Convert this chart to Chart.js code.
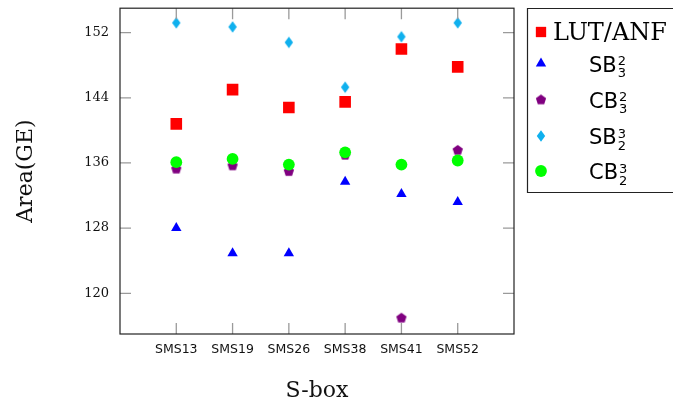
<!DOCTYPE html>
<html>
<head>
<meta charset="utf-8">
<script src="https://cdn.jsdelivr.net/npm/chart.js@4/dist/chart.umd.min.js"></script>
<style>
  html, body { margin: 0; padding: 0; background: #fff; }
  #wrap { width: 673px; height: 405px; }
</style>
</head>
<body>
<div id="wrap"><canvas id="areaChart" width="673" height="405"></canvas></div>
<script>
// ---- data ----
const sboxes = ["SMS13", "SMS19", "SMS26", "SMS38", "SMS41", "SMS52"];
const yTicks = [120, 128, 136, 144, 152];

const lutAnf = [140.8, 145.0, 142.8, 143.5, 150.0, 147.8];
const sb32 = [128.0, 124.9, 124.9, 133.7, 132.2, 131.2];
const cb32 = [135.3, 135.7, 135.0, 137.0, 117.0, 137.6];
const sb23 = [153.2, 152.7, 150.8, 145.3, 151.5, 153.2];
const cb23 = [136.1, 136.5, 135.8, 137.3, 135.8, 136.3];

// legend text pieces: base, subscript, superscript
const seriesBase = ["LUT/ANF", "SB", "CB", "SB", "CB"];
const seriesSub = ["", "3", "3", "2", "2"];
const seriesSup = ["", "2", "2", "3", "3"];

// ---- custom marker shapes ----
function makeDiamond(color) {
  const c = document.createElement("canvas");
  c.width = 12; c.height = 14;
  const g = c.getContext("2d");
  g.fillStyle = color;
  g.beginPath();
  g.moveTo(6, 1.2);
  g.lineTo(10.2, 7);
  g.lineTo(6, 12.8);
  g.lineTo(1.8, 7);
  g.closePath();
  g.fill();
  return c;
}

function makePentagon(color) {
  const c = document.createElement("canvas");
  c.width = 14; c.height = 14;
  const g = c.getContext("2d");
  const R = 5.4;
  g.fillStyle = color;
  g.beginPath();
  for (let k = 0; k < 5; k++) {
    const a = -Math.PI / 2 + k * 2 * Math.PI / 5;
    const px = 7 + R * Math.cos(a);
    const py = 7.5 + R * Math.sin(a);
    if (k === 0) g.moveTo(px, py); else g.lineTo(px, py);
  }
  g.closePath();
  g.fill();
  return c;
}

const diamond = makeDiamond("#0fb0ee");
const pentagon = makePentagon("#800080");

const styles = [
  { color: "#ff0000", pointStyle: "rect", radius: 8.2 },
  { color: "#0000ff", pointStyle: "triangle", radius: 6 },
  { color: "#800080", pointStyle: pentagon, radius: 6 },
  { color: "#0fb0ee", pointStyle: diamond, radius: 6 },
  { color: "#00ff00", pointStyle: "circle", radius: 5.9 }
];

const seriesValues = [lutAnf, sb32, cb32, sb23, cb23];

const datasets = seriesValues.map((vals, i) => ({
  label: seriesBase[i] + seriesSub[i] + seriesSup[i],
  data: vals.map((v, j) => ({ x: j, y: v })),
  pointStyle: styles[i].pointStyle,
  pointRadius: styles[i].radius,
  pointHoverRadius: styles[i].radius,
  pointBackgroundColor: styles[i].color,
  pointBorderColor: styles[i].color,
  pointBorderWidth: 0,
  showLine: false,
  order: seriesValues.length - i
}));

// =========================
// FRAME + INNER TICK MARKS
// =========================
const framePlugin = {
  id: "frame",
  afterDraw(chart) {
    const { ctx, chartArea: a, scales } = chart;
    const len = 11;
    ctx.save();
    ctx.strokeStyle = "#9a9a9a";
    ctx.lineWidth = 1.3;
    ctx.beginPath();
    yTicks.forEach(t => {
      const y = scales.y.getPixelForValue(t);
      ctx.moveTo(a.left, y); ctx.lineTo(a.left + len, y);
      ctx.moveTo(a.right, y); ctx.lineTo(a.right - len, y);
    });
    sboxes.forEach((s, i) => {
      const x = scales.x.getPixelForValue(i);
      ctx.moveTo(x, a.bottom); ctx.lineTo(x, a.bottom - len);
      ctx.moveTo(x, a.top); ctx.lineTo(x, a.top + len);
    });
    ctx.stroke();

    ctx.strokeStyle = "#222";
    ctx.lineWidth = 1.2;
    ctx.strokeRect(a.left, a.top, a.right - a.left, a.bottom - a.top);
    ctx.restore();
  }
};

// =========================
// LEGEND (drawn by hand for sub/superscripts)
// =========================
const legendPlugin = {
  id: "texLegend",
  afterDraw(chart) {
    const { ctx } = chart;
    const boxL = 527.5, boxT = 8.5, boxB = 192.5;
    const rowY = [32, 63.5, 99.5, 136, 171];
    ctx.save();
    ctx.strokeStyle = "#222";
    ctx.lineWidth = 1.2;
    ctx.beginPath();
    ctx.moveTo(690, boxT);
    ctx.lineTo(boxL, boxT);
    ctx.lineTo(boxL, boxB);
    ctx.lineTo(690, boxB);
    ctx.stroke();

    seriesBase.forEach((name, i) => {
      const y = rowY[i];
      ctx.fillStyle = styles[i].color;
      Chart.helpers.drawPoint(ctx, {
        pointStyle: styles[i].pointStyle,
        radius: i === 0 ? 7.3 : styles[i].radius,
        rotation: 0,
        borderWidth: 0
      }, 541, y);

      ctx.fillStyle = "#000";
      ctx.textBaseline = "alphabetic";
      ctx.textAlign = "left";
      if (i === 0) {
        ctx.font = "24px 'DejaVu Serif'";
        ctx.fillText(name, 553, y + 7.8);
      } else {
        ctx.font = "21px 'DejaVu Sans'";
        ctx.fillText(name, 589, y + 8.3);
        const w = ctx.measureText(name).width;
        ctx.font = "13px 'DejaVu Sans'";
        ctx.fillText(seriesSup[i], 589 + w + 1, y + 1.5);
        ctx.fillText(seriesSub[i], 589 + w + 1, y + 13.5);
      }
    });
    ctx.restore();
  }
};

new Chart(document.getElementById("areaChart"), {
  type: "scatter",
  data: { datasets: datasets },
  options: {
    responsive: false,
    devicePixelRatio: 1,
    animation: false,
    layout: { padding: { left: 0, right: 159, top: 8, bottom: 0 } },
    plugins: {
      legend: { display: false },
      tooltip: { enabled: false }
    },
    scales: {
      x: {
        type: "linear",
        min: -1,
        max: 6,
        afterBuildTicks: s => { s.ticks = sboxes.map((n, i) => ({ value: i })); },
        afterFit: s => { s.height = 71; s.paddingLeft = 0; s.paddingRight = 0; },
        grid: { display: false, drawTicks: false },
        border: { display: false },
        ticks: {
          padding: 8,
          maxRotation: 0,
          color: "#111",
          font: { family: "DejaVu Sans", size: 12.5 },
          callback: v => sboxes[v]
        },
        title: {
          display: true,
          text: "S-box",
          color: "#111",
          font: { family: "DejaVu Serif", size: 22 },
          padding: { top: 0, bottom: 1 }
        }
      },
      y: {
        min: 115,
        max: 155,
        afterBuildTicks: s => { s.ticks = yTicks.map(v => ({ value: v })); },
        afterFit: s => { s.width = 120; s.paddingTop = 0; s.paddingBottom = 0; },
        grid: { display: false, drawTicks: false },
        border: { display: false },
        ticks: {
          padding: 11,
          color: "#111",
          font: { family: "DejaVu Serif", size: 13 }
        },
        title: {
          display: true,
          text: "Area(GE)",
          color: "#111",
          font: { family: "DejaVu Serif", size: 22 },
          padding: { top: 13, bottom: 0 }
        }
      }
    }
  },
  plugins: [framePlugin, legendPlugin]
});
</script>
</body>
</html>
